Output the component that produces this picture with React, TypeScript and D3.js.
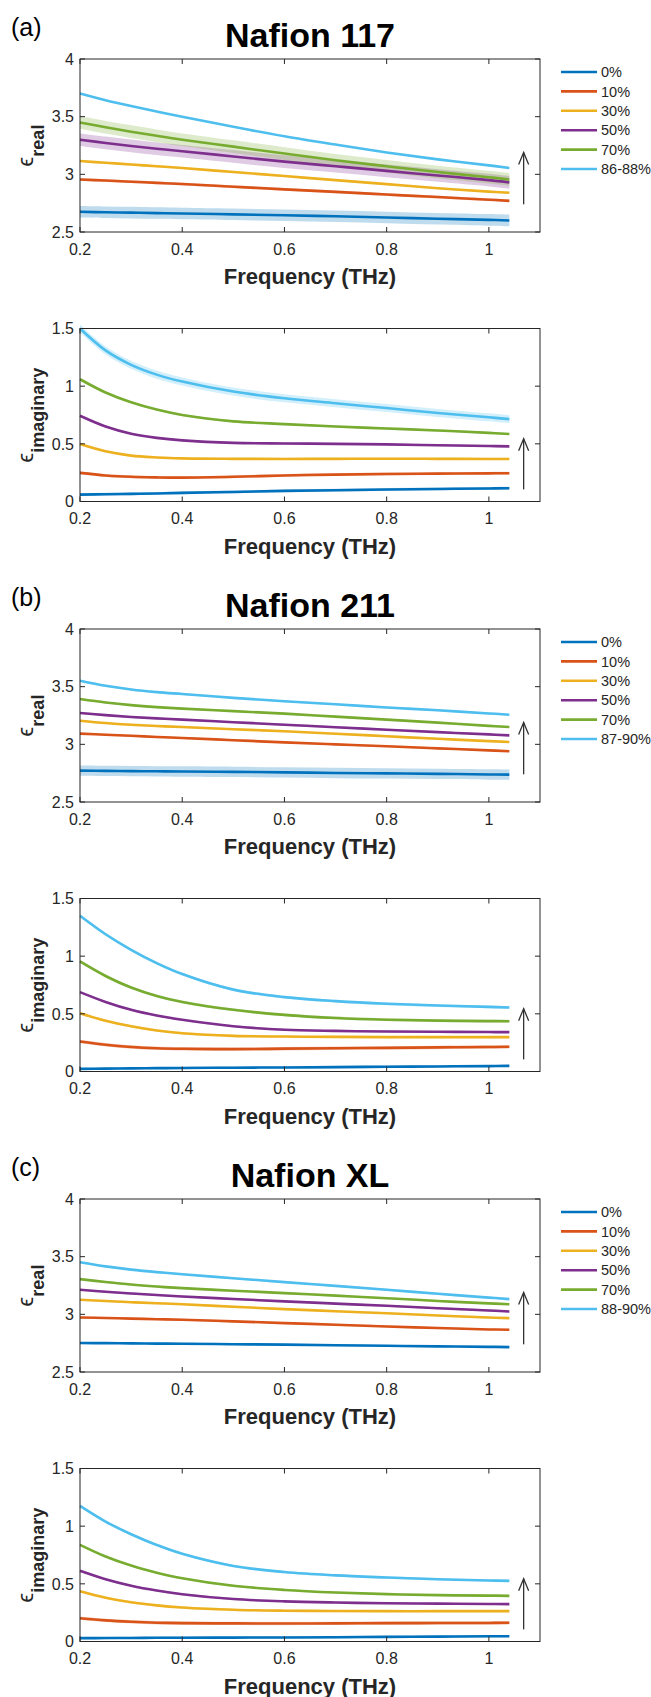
import React from "react";
import * as d3 from "d3";

// frequency grid (THz) the curves were read at
const freq = [0.2, 0.25, 0.3, 0.35, 0.4, 0.5, 0.6, 0.7, 0.8, 0.9, 1.0, 1.04];

const colors = ["#0072BD", "#D95319", "#EDB120", "#7E2F8E", "#77AC30", "#4DBEEE"];
const xTicks = [0.2, 0.4, 0.6, 0.8, 1];
const realTicks = [2.5, 3, 3.5, 4];
const imagTicks = [0, 0.5, 1, 1.5];

const labels117 = ["0%", "10%", "30%", "50%", "70%", "86-88%"];
const labels211 = ["0%", "10%", "30%", "50%", "70%", "87-90%"];
const labelsXL = ["0%", "10%", "30%", "50%", "70%", "88-90%"];

// Nafion 117
const real117 = [
  [2.675, 2.671, 2.668, 2.664, 2.66, 2.653, 2.645, 2.636, 2.626, 2.615, 2.605, 2.6],
  [2.955, 2.946, 2.936, 2.926, 2.916, 2.893, 2.87, 2.848, 2.825, 2.803, 2.78, 2.77],
  [3.115, 3.1, 3.085, 3.07, 3.055, 3.02, 2.985, 2.95, 2.915, 2.88, 2.85, 2.84],
  [3.3, 3.272, 3.246, 3.222, 3.2, 3.155, 3.11, 3.07, 3.03, 2.99, 2.95, 2.93],
  [3.45, 3.408, 3.37, 3.334, 3.3, 3.24, 3.18, 3.122, 3.07, 3.02, 2.975, 2.955],
  [3.7, 3.643, 3.592, 3.544, 3.5, 3.412, 3.33, 3.258, 3.19, 3.13, 3.078, 3.055],
];
const realBand117 = [0.05, 0.012, 0.008, 0.055, 0.055, 0.005];
const imag117 = [
  [0.06, 0.063, 0.066, 0.07, 0.075, 0.083, 0.092, 0.098, 0.104, 0.109, 0.113, 0.115],
  [0.248, 0.226, 0.214, 0.209, 0.207, 0.214, 0.226, 0.233, 0.239, 0.242, 0.244, 0.245],
  [0.498, 0.435, 0.398, 0.382, 0.374, 0.37, 0.369, 0.37, 0.371, 0.37, 0.369, 0.369],
  [0.743, 0.65, 0.588, 0.552, 0.53, 0.508, 0.503, 0.5, 0.495, 0.488, 0.481, 0.478],
  [1.06, 0.945, 0.86, 0.797, 0.75, 0.695, 0.671, 0.65, 0.633, 0.616, 0.595, 0.585],
  [1.5, 1.31, 1.185, 1.1, 1.04, 0.953, 0.895, 0.852, 0.81, 0.768, 0.73, 0.714],
];
const imagBand117 = [0.012, 0.012, 0.01, 0.008, 0.008, 0.035];

// Nafion 211
const real211 = [
  [2.772, 2.77, 2.768, 2.766, 2.764, 2.761, 2.757, 2.752, 2.748, 2.744, 2.739, 2.737],
  [3.093, 3.083, 3.074, 3.064, 3.055, 3.036, 3.017, 3.0, 2.983, 2.965, 2.948, 2.94],
  [3.205, 3.185, 3.17, 3.159, 3.15, 3.131, 3.113, 3.092, 3.07, 3.048, 3.028, 3.02],
  [3.272, 3.253, 3.237, 3.225, 3.214, 3.192, 3.17, 3.148, 3.127, 3.106, 3.086, 3.078],
  [3.393, 3.363, 3.34, 3.323, 3.31, 3.288, 3.266, 3.24, 3.214, 3.188, 3.16, 3.15],
  [3.552, 3.508, 3.476, 3.453, 3.436, 3.403, 3.373, 3.347, 3.32, 3.295, 3.268, 3.257],
];
const realBand211 = [0.045, 0.008, 0.008, 0.008, 0.008, 0.008];
const imag211 = [
  [0.023, 0.025, 0.027, 0.029, 0.03, 0.033, 0.035, 0.038, 0.041, 0.044, 0.047, 0.049],
  [0.26, 0.232, 0.213, 0.202, 0.197, 0.194, 0.198, 0.202, 0.205, 0.209, 0.212, 0.214],
  [0.506, 0.44, 0.392, 0.356, 0.332, 0.309, 0.303, 0.3, 0.298, 0.298, 0.298, 0.298],
  [0.688, 0.603, 0.535, 0.485, 0.448, 0.392, 0.362, 0.352, 0.347, 0.344, 0.342, 0.341],
  [0.954, 0.828, 0.728, 0.655, 0.603, 0.535, 0.491, 0.464, 0.449, 0.441, 0.437, 0.436],
  [1.35, 1.19, 1.055, 0.94, 0.845, 0.71, 0.645, 0.61, 0.587, 0.572, 0.56, 0.555],
];
const imagBand211 = [0.01, 0.015, 0.01, 0.008, 0.012, 0.012];

// Nafion XL
const realXL = [
  [2.751, 2.75, 2.748, 2.746, 2.745, 2.741, 2.737, 2.732, 2.727, 2.722, 2.718, 2.716],
  [2.973, 2.968, 2.963, 2.958, 2.953, 2.939, 2.924, 2.91, 2.895, 2.881, 2.869, 2.866],
  [3.126, 3.115, 3.105, 3.096, 3.088, 3.066, 3.045, 3.027, 3.01, 2.99, 2.972, 2.967],
  [3.213, 3.196, 3.181, 3.167, 3.155, 3.133, 3.112, 3.093, 3.074, 3.053, 3.033, 3.025],
  [3.305, 3.28, 3.258, 3.241, 3.227, 3.205, 3.184, 3.162, 3.14, 3.116, 3.095, 3.088],
  [3.452, 3.416, 3.388, 3.366, 3.348, 3.313, 3.279, 3.247, 3.213, 3.178, 3.145, 3.132],
];
const realBandXL = [0.008, 0.008, 0.008, 0.008, 0.008, 0.008];
const imagXL = [
  [0.029, 0.03, 0.031, 0.032, 0.033, 0.034, 0.035, 0.037, 0.04, 0.042, 0.045, 0.046],
  [0.202, 0.183, 0.171, 0.163, 0.159, 0.157, 0.156, 0.157, 0.159, 0.16, 0.161, 0.162],
  [0.436, 0.38, 0.34, 0.313, 0.295, 0.275, 0.267, 0.264, 0.263, 0.263, 0.263, 0.263],
  [0.613, 0.54, 0.484, 0.442, 0.41, 0.368, 0.348, 0.338, 0.332, 0.328, 0.325, 0.324],
  [0.838, 0.737, 0.658, 0.597, 0.548, 0.483, 0.447, 0.425, 0.411, 0.402, 0.398, 0.396],
  [1.176, 1.04, 0.93, 0.837, 0.76, 0.655, 0.602, 0.573, 0.555, 0.54, 0.529, 0.526],
];
const imagBandXL = [0.01, 0.015, 0.01, 0.008, 0.008, 0.01];

// the "increasing humidity" arrow, in data units
const arrowX = 1.068;
const arrowReal = [2.74, 3.19];
const arrowImag = [0.105, 0.545];

const font = "'Liberation Sans', Arial, Helvetica, sans-serif";
const axisColor = "#262626";
const left = 80;
const right = 540;
const plotH = 173;

const xScale = d3.scaleLinear().domain([0.2, 1.1]).range([left, right]);

function Panel(props) {
  const { top, domain, yTicks, series, bands, sub, legend, arrow } = props;
  const bottom = top + plotH;
  const yScale = d3.scaleLinear().domain(domain).range([bottom, top]);
  const tick = 5;
  const curve = d3.curveCatmullRom.alpha(0.5);

  const line = d3
    .line()
    .x((d, i) => xScale(freq[i]))
    .y((d) => yScale(d))
    .curve(curve);

  const area = (vals, w) =>
    d3
      .area()
      .x((d, i) => xScale(freq[i]))
      .y0((d) => yScale(d - w))
      .y1((d) => yScale(d + w))
      .curve(curve)(vals);

  const ay0 = yScale(arrow[0]);
  const ay1 = yScale(arrow[1]);
  const ax = xScale(arrowX);
  const midY = (top + bottom) / 2;

  return (
    <g>
      {/* uncertainty bands */}
      {series.map((s, i) => (
        <path key={"b" + i} d={area(s, bands[i])} fill={colors[i]} fillOpacity={0.25} stroke="none" />
      ))}
      {series.map((s, i) => (
        <path key={"l" + i} d={line(s)} fill="none" stroke={colors[i]} strokeWidth={2.6} />
      ))}

      {/* box + ticks */}
      <rect x={left} y={top} width={right - left} height={plotH} fill="none" stroke={axisColor} strokeWidth={1} />
      {xTicks.map((t) => (
        <g key={"x" + t}>
          <line x1={xScale(t)} x2={xScale(t)} y1={bottom} y2={bottom - tick} stroke={axisColor} />
          <line x1={xScale(t)} x2={xScale(t)} y1={top} y2={top + tick} stroke={axisColor} />
          <text x={xScale(t)} y={bottom + 22.5} textAnchor="middle" fontSize={16} fill={axisColor} fontFamily={font}>
            {String(t)}
          </text>
        </g>
      ))}
      {yTicks.map((t) => (
        <g key={"y" + t}>
          <line x1={left} x2={left + tick} y1={yScale(t)} y2={yScale(t)} stroke={axisColor} />
          <line x1={right} x2={right - tick} y1={yScale(t)} y2={yScale(t)} stroke={axisColor} />
          <text x={left - 6} y={yScale(t)} dy="0.36em" textAnchor="end" fontSize={16} fill={axisColor} fontFamily={font}>
            {String(t)}
          </text>
        </g>
      ))}

      <text x={(left + right) / 2} y={bottom + 52} textAnchor="middle" fontSize={22} fontWeight="bold" fill={axisColor} fontFamily={font}>
        Frequency (THz)
      </text>
      <text transform={`translate(33, ${midY}) rotate(-90)`} textAnchor="middle" fill={axisColor} fontFamily={font}>
        <tspan fontSize={22}>{"\u03F5"}</tspan>
        <tspan fontSize={18} fontWeight="bold" dy={11}>{sub}</tspan>
      </text>

      {/* arrow */}
      <line x1={ax} x2={ax} y1={ay0} y2={ay1} stroke="#333" strokeWidth={1.3} />
      <polyline points={`${ax - 5},${ay1 + 12} ${ax},${ay1} ${ax + 5},${ay1 + 12}`} fill="none" stroke="#333" strokeWidth={1.3} />

      {legend &&
        legend.map((lab, i) => {
          const ly = top + 13 + i * 19.4;
          return (
            <g key={"lg" + i}>
              <line x1={561} x2={597} y1={ly} y2={ly} stroke={colors[i]} strokeWidth={2.6} />
              <text x={601} y={ly} dy="0.36em" fontSize={14.5} fill={axisColor} fontFamily={font}>
                {lab}
              </text>
            </g>
          );
        })}
    </g>
  );
}

function Group({ offset, tag, title, real, realBand, imag, imagBand, labels }) {
  const realTop = offset + 59;
  const imagTop = offset + 328.5;
  return (
    <g>
      <text x={11} y={realTop - 23} fontSize={25} fill="#000" fontFamily={font}>
        {tag}
      </text>
      <text x={(left + right) / 2} y={realTop - 12.5} textAnchor="middle" fontSize={34} fontWeight="bold" fill="#000" fontFamily={font}>
        {title}
      </text>
      <Panel top={realTop} domain={[2.5, 4]} yTicks={realTicks} series={real} bands={realBand} sub="real" legend={labels} arrow={arrowReal} />
      <Panel top={imagTop} domain={[0, 1.5]} yTicks={imagTicks} series={imag} bands={imagBand} sub="imaginary" arrow={arrowImag} />
    </g>
  );
}

export default function App() {
  return (
    <svg width={651} height={1697} style={{ position: "absolute", left: 0, top: 0, background: "#fff" }}>
      <rect width={651} height={1697} fill="#fff" />
      <Group offset={0} tag="(a)" title="Nafion 117" real={real117} realBand={realBand117} imag={imag117} imagBand={imagBand117} labels={labels117} />
      <Group offset={570} tag="(b)" title="Nafion 211" real={real211} realBand={realBand211} imag={imag211} imagBand={imagBand211} labels={labels211} />
      <Group offset={1140} tag="(c)" title="Nafion XL" real={realXL} realBand={realBandXL} imag={imagXL} imagBand={imagBandXL} labels={labelsXL} />
    </svg>
  );
}
